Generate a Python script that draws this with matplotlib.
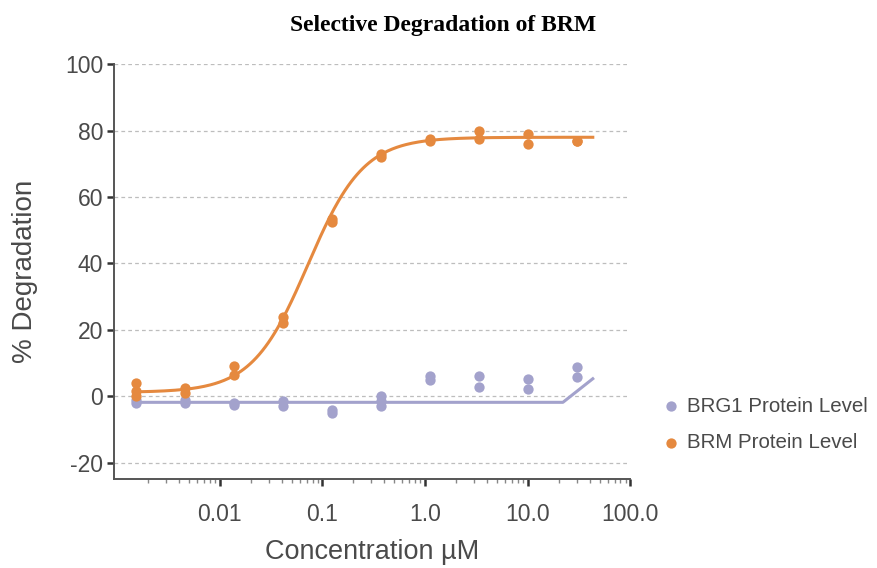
import numpy as np
import matplotlib
matplotlib.use("Agg")
import matplotlib.pyplot as plt

plt.rcParams['font.family'] = ['Liberation Sans', 'DejaVu Sans']
plt.rcParams['axes.unicode_minus'] = False

# concentrations (uM), 3-fold dilution from 30 uM
conc = [0.00152, 0.00457, 0.0137, 0.0412, 0.123, 0.370, 1.11, 3.33, 10.0, 30.0]

# replicate readings (% degradation) per concentration
brm_reps = [[4.0, 1.5, 0.0], [2.5, 1.0], [9.0, 6.5], [24.0, 22.0], [53.5, 52.5],
            [73.0, 72.0], [77.0, 77.5], [80.0, 77.5], [79.0, 76.0], [77.0, 77.0]]
brg1_reps = [[-1.0, -2.0], [-1.0, -2.0], [-2.0, -2.5], [-1.5, -3.0], [-4.0, -5.0],
             [0.0, -1.5, -3.0], [6.0, 5.0], [6.1, 2.8], [5.3, 2.3], [8.8, 5.8]]

# BRM 4-parameter logistic fit
brm_bottom, brm_top, brm_ec50, brm_hill = 1.2, 78.0, 0.072, 1.6
fit_range = (0.0015, 43.0)

# BRG1 fit line as drawn
brg1_fit_x = [0.0015, 22.0, 43.0]
brg1_fit_y = [-1.8, -1.8, 5.3]

orange = "#E5893F"
purple = "#A3A2CC"
txt = "#4a4a4a"


def four_pl(x, bottom, top, ec50, hill):
    return bottom + (top - bottom) / (1 + (ec50 / x) ** hill)


fig = plt.figure(figsize=(8.78, 5.68), dpi=100)
ax = fig.add_axes([0.130, 0.156, 0.588, 0.731])

# dashed grid
for yv in range(-20, 101, 20):
    ax.axhline(yv, color="#bdbdbd", lw=0.9, ls=(0, (3, 2.5)), zorder=0)

xs, ys = [], []
for c, reps in zip(conc, brg1_reps):
    for r in reps:
        xs.append(c)
        ys.append(r)
ax.scatter(xs, ys, s=55, color=purple, zorder=3, linewidths=0, label="BRG1 Protein Level")
ax.plot(brg1_fit_x, brg1_fit_y, color=purple, lw=2.2, zorder=2)

xs, ys = [], []
for c, reps in zip(conc, brm_reps):
    for r in reps:
        xs.append(c)
        ys.append(r)
ax.scatter(xs, ys, s=55, color=orange, zorder=4, linewidths=0, label="BRM Protein Level")
xf = np.logspace(np.log10(fit_range[0]), np.log10(fit_range[1]), 300)
ax.plot(xf, four_pl(xf, brm_bottom, brm_top, brm_ec50, brm_hill), color=orange, lw=2.2, zorder=4)

ax.set_xscale("log")
ax.set_xlim(10 ** -3.03, 100)
ax.set_ylim(-25, 100)
ax.set_xticks([0.01, 0.1, 1, 10, 100])
ax.set_xticklabels(["0.01", "0.1", "1.0", "10.0", "100.0"])
ax.set_yticks(range(-20, 101, 20))

for s in ["top", "right"]:
    ax.spines[s].set_visible(False)
for s in ["left", "bottom"]:
    ax.spines[s].set_color("#555555")
    ax.spines[s].set_linewidth(1.4)
ax.tick_params(axis="both", which="major", length=5, width=1.8, color="#333333",
               labelsize=16.5, labelcolor=txt)
ax.tick_params(axis="x", which="major", pad=12)
ax.tick_params(axis="y", which="major", pad=3)
ax.tick_params(axis="x", which="minor", length=3, width=1, color="#888888")

ax.set_xlabel("Concentration \u00b5M", fontsize=19.5, color=txt, labelpad=9)
ax.set_ylabel("% Degradation", fontsize=20, color=txt, labelpad=19)

fig.text(0.505, 0.955, "Selective Degradation of BRM", ha="center", va="center",
         fontsize=17, fontweight="bold", family="Liberation Serif", color="black")

leg = fig.legend(loc="center left", bbox_to_anchor=(0.729, 0.253), frameon=False,
                 fontsize=14.8, handletextpad=0.2, labelspacing=0.85, markerscale=1.0,
                 handlelength=1.2)
for t in leg.get_texts():
    t.set_color(txt)

fig.savefig("out.png", dpi=100)
